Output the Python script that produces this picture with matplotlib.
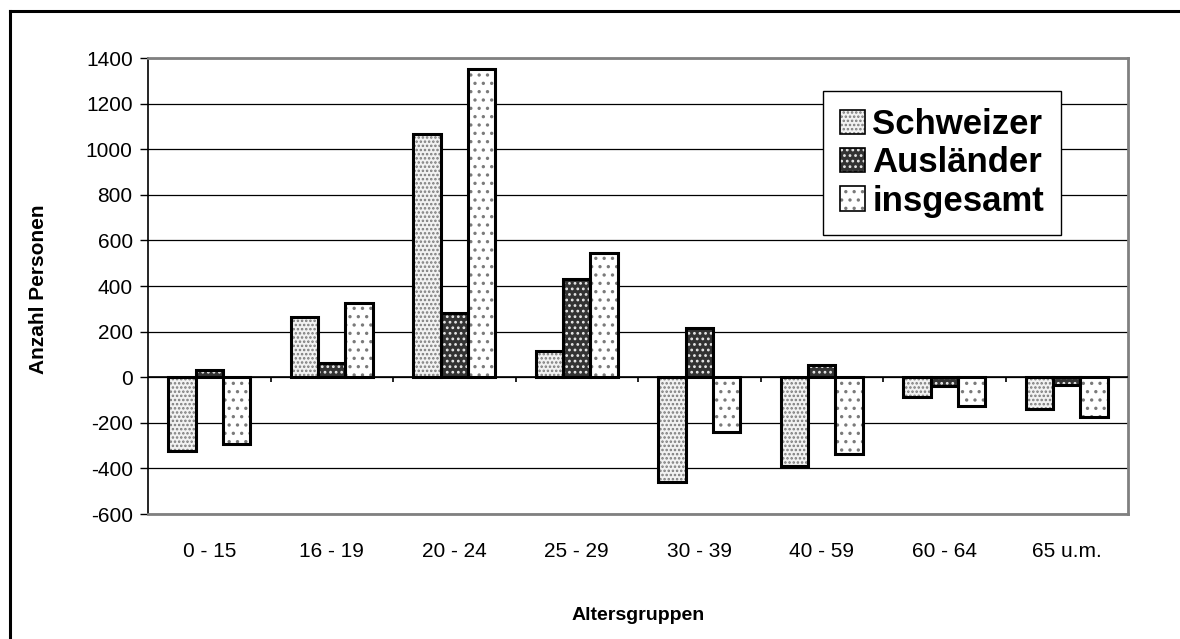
import numpy as np
import matplotlib
matplotlib.use("Agg")
import matplotlib.pyplot as plt
from matplotlib.patches import Patch
from matplotlib.lines import Line2D

plt.rcParams['font.family'] = ['Liberation Sans', 'DejaVu Sans']
plt.rcParams['hatch.linewidth'] = 1.2
plt.rcParams['axes.unicode_minus'] = False

# Wanderungssaldo nach Altersgruppen
gruppen = ["0 - 15", "16 - 19", "20 - 24", "25 - 29", "30 - 39", "40 - 59", "60 - 64", "65 u.m."]
schweizer = [-325, 264, 1068, 114, -459, -389, -87, -139]
auslaender = [30, 61, 283, 429, 217, 54, -39, -35]
insgesamt = [-295, 325, 1351, 543, -242, -335, -126, -174]

serien = ["Schweizer", "Ausländer", "insgesamt"]
# face, hatch, hatch colour
stile = [("#f2f2f2", "....", "#7a7a7a"),
         ("#333333", "...", "#e8e8e8"),
         ("white", "..", "#7a7a7a")]

fig = plt.figure(figsize=(11.8, 6.39), dpi=100)
ax = fig.add_axes([148/1180, 1-514/639, 980/1180, 456/639])

x = np.arange(len(gruppen))
w = 0.667 / 3
handles = []
for i, (werte, (fc, h, hc)) in enumerate(zip([schweizer, auslaender, insgesamt], stile)):
    pos = x + (i - 1) * w
    ax.bar(pos, werte, w, color=fc, hatch=h, edgecolor=hc, linewidth=0, zorder=3)
    ax.bar(pos, werte, w, fill=False, edgecolor="black", linewidth=2.2, zorder=4)
    handles.append((Patch(facecolor=fc, hatch=h, edgecolor=hc, linewidth=0),
                    Patch(fill=False, edgecolor="black", linewidth=1.2)))

ax.set_xlim(-0.5, len(gruppen) - 0.5)
ax.set_ylim(-600, 1400)
ax.set_yticks(np.arange(-600, 1401, 200))
ax.set_xticks(x)
ax.set_xticklabels(gruppen, fontsize=15)
ax.tick_params(axis="x", length=0, pad=20)
ax.tick_params(axis="y", direction="out", length=6, width=1, labelsize=15, pad=5)
ax.yaxis.grid(True, color="black", linewidth=0.9, zorder=0)
ax.set_axisbelow(True)

for s in ["top", "right", "bottom"]:
    ax.spines[s].set_color("#808080")
    ax.spines[s].set_linewidth(2)
ax.spines["left"].set_linewidth(1.2)

# Nulllinie mit Kategorie-Trennstrichen
ax.axhline(0, color="black", linewidth=1.2, zorder=5)
ax.vlines(np.arange(0.5, len(gruppen) - 0.5), -22, 0, color="black", linewidth=1.2, zorder=5)

ax.set_ylabel("Anzahl Personen", fontsize=15, fontweight="bold")
ax.yaxis.set_label_coords((48 - 148) / 980, 0.493)
ax.set_xlabel("Altersgruppen", fontsize=14, fontweight="bold")
ax.xaxis.set_label_coords(0.5, -(615 - 514) / 456)
ax.xaxis.label.set_va("center")

leg = ax.legend(handles, serien, loc="upper right", bbox_to_anchor=(0.932, 0.928),
                borderaxespad=0, fancybox=False, framealpha=1, edgecolor="black",
                prop={"size": 25, "weight": "bold"}, handlelength=0.7, handleheight=0.7,
                handletextpad=0.22, labelspacing=0.15, borderpad=0.5)
leg.get_frame().set_linewidth(1.0)
leg.set_zorder(10)

# Rahmen um die Grafik
fig.add_artist(Line2D([10/1180, 10/1180], [0, 1-11/639], color="black", linewidth=2.2))
fig.add_artist(Line2D([10/1180, 1], [1-11/639, 1-11/639], color="black", linewidth=2.2))

fig.savefig("out.png", dpi=100)
